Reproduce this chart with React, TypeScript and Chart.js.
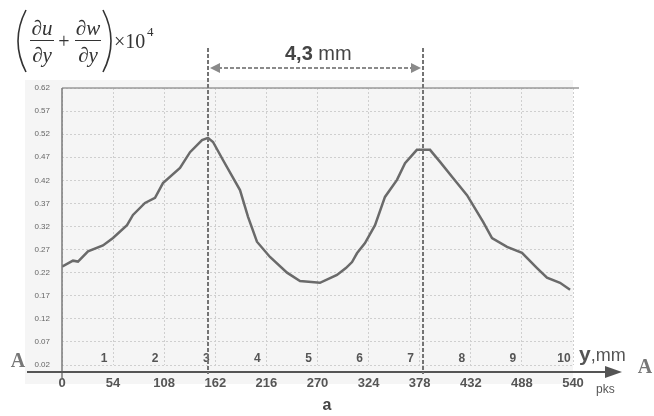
import React, { useEffect, useRef } from "react";
import { Chart, registerables } from "chart.js";

Chart.register(...registerables);

// ---- data ----
const positions = [
  0, 11.6, 16.9, 27.5, 43.3, 53.9, 68.7, 75, 87.7, 98.3, 106.7, 124.7, 135.3,
  148, 154.3, 159.6, 170.1, 188.1, 196.6, 206, 219.8, 237.8, 251.5, 272.6,
  290.6, 300, 306.5, 311.7, 320.2, 330.8, 341.3, 354, 362.5, 375, 388.9, 399.5,
  413.2, 428, 445, 454.4, 470.3, 486.1, 502, 512.5, 526.3, 536.9,
];
const values = [
  0.233, 0.246, 0.244, 0.266, 0.279, 0.295, 0.323, 0.345, 0.371, 0.382,
  0.414, 0.447, 0.481, 0.507, 0.512, 0.503, 0.464, 0.399, 0.341, 0.287, 0.254,
  0.22, 0.202, 0.198, 0.215, 0.23, 0.243, 0.262, 0.284, 0.323, 0.384, 0.421,
  0.457, 0.486, 0.486, 0.46, 0.425, 0.388, 0.33, 0.295, 0.276, 0.263, 0.23,
  0.209, 0.198, 0.183,
];
const xTickLabels = ["0", "54", "108", "162", "216", "270", "324", "378", "432", "488", "540"];
const sectionLabels = ["1", "2", "3", "4", "5", "6", "7", "8", "9", "10"];
const yMin = 0.02;
const yMax = 0.62;
const yStep = 0.05;
const xMin = 0;
const xMax = 540;
const xStep = 54;
const peakPositions = [154.3, 381.5];
const distanceValue = "4,3";
const distanceUnit = " mm";

export default function App() {
  const ref = useRef<HTMLCanvasElement | null>(null);

  useEffect(() => {
    document.body.style.margin = "0";
    const canvas = ref.current;
    if (!canvas) return;

    const decor = {
      id: "decor",
      beforeDraw(chart: any) {
        const ctx = chart.ctx;
        ctx.save();
        ctx.fillStyle = "#ffffff";
        ctx.fillRect(0, 0, chart.width, chart.height);
        ctx.fillStyle = "#f5f5f5";
        ctx.fillRect(25, 80, 548, 304);
        ctx.restore();
      },
      afterDraw(chart: any) {
        const ctx = chart.ctx;
        const xs = chart.scales.x;
        const ys = chart.scales.y;
        const area = chart.chartArea;
        ctx.save();

        // top border & left axis
        ctx.strokeStyle = "#9a9a9a";
        ctx.lineWidth = 1.5;
        ctx.beginPath();
        ctx.moveTo(area.left, ys.getPixelForValue(yMax));
        ctx.lineTo(area.right + 6, ys.getPixelForValue(yMax));
        ctx.stroke();
        ctx.strokeStyle = "#7a7a7a";
        ctx.beginPath();
        ctx.moveTo(area.left, ys.getPixelForValue(yMax));
        ctx.lineTo(area.left, 378);
        ctx.stroke();

        // section numbers
        ctx.fillStyle = "#555";
        ctx.font = "bold 12px Arial, 'Liberation Sans'";
        ctx.textAlign = "center";
        ctx.textBaseline = "middle";
        sectionLabels.forEach((s, i) => {
          const px = xs.getPixelForValue((i + 1) * xStep) - 9;
          ctx.fillText(s, px, 359);
        });

        // bottom axis with arrow
        ctx.strokeStyle = "#555";
        ctx.fillStyle = "#555";
        ctx.lineWidth = 2.2;
        ctx.beginPath();
        ctx.moveTo(27, 372);
        ctx.lineTo(608, 372);
        ctx.stroke();
        ctx.beginPath();
        ctx.moveTo(622, 372);
        ctx.lineTo(605, 366);
        ctx.lineTo(605, 378);
        ctx.closePath();
        ctx.fill();

        // dashed peak lines
        ctx.strokeStyle = "#737373";
        ctx.lineWidth = 2;
        ctx.setLineDash([4, 2]);
        peakPositions.forEach((p) => {
          const px = xs.getPixelForValue(p);
          ctx.beginPath();
          ctx.moveTo(px, 48);
          ctx.lineTo(px, 374);
          ctx.stroke();
        });

        // distance arrow
        const p1 = xs.getPixelForValue(peakPositions[0]);
        const p2 = xs.getPixelForValue(peakPositions[1]);
        ctx.strokeStyle = "#8a8a8a";
        ctx.fillStyle = "#8a8a8a";
        ctx.beginPath();
        ctx.moveTo(p1 + 10, 68);
        ctx.lineTo(p2 - 10, 68);
        ctx.stroke();
        ctx.setLineDash([]);
        ctx.beginPath();
        ctx.moveTo(p1 + 2, 68);
        ctx.lineTo(p1 + 12, 63);
        ctx.lineTo(p1 + 12, 73);
        ctx.closePath();
        ctx.fill();
        ctx.beginPath();
        ctx.moveTo(p2 - 2, 68);
        ctx.lineTo(p2 - 12, 63);
        ctx.lineTo(p2 - 12, 73);
        ctx.closePath();
        ctx.fill();

        // distance text
        ctx.fillStyle = "#444";
        ctx.textAlign = "left";
        ctx.textBaseline = "alphabetic";
        ctx.font = "bold 20px Arial, 'Liberation Sans'";
        ctx.fillText(distanceValue, 285, 60);
        const w1 = ctx.measureText(distanceValue).width;
        ctx.font = "20px Arial, 'Liberation Sans'";
        ctx.fillText(distanceUnit, 285 + w1, 60);

        // A letters
        ctx.fillStyle = "#777";
        ctx.font = "bold 20px 'Liberation Serif', serif";
        ctx.textAlign = "center";
        ctx.textBaseline = "alphabetic";
        ctx.fillText("A", 18, 367);
        ctx.fillText("A", 645, 373);

        // y,mm and pks
        ctx.fillStyle = "#555";
        ctx.textAlign = "left";
        ctx.font = "bold 21px Arial, 'Liberation Sans'";
        ctx.fillText("y", 579, 361);
        const wy = ctx.measureText("y").width;
        ctx.font = "18px Arial, 'Liberation Sans'";
        ctx.fillText(",mm", 579 + wy, 361);
        ctx.font = "12px Arial, 'Liberation Sans'";
        ctx.fillText("pks", 596, 393);

        // caption a
        ctx.font = "bold 16px Arial, 'Liberation Sans'";
        ctx.textAlign = "center";
        ctx.fillStyle = "#444";
        ctx.fillText("a", 327, 410);

        // formula
        ctx.fillStyle = "#333";
        ctx.strokeStyle = "#333";
        ctx.lineWidth = 1.6;
        ctx.beginPath();
        ctx.moveTo(26, 10);
        ctx.quadraticCurveTo(10, 41, 26, 72);
        ctx.stroke();
        ctx.beginPath();
        ctx.moveTo(103, 10);
        ctx.quadraticCurveTo(119, 41, 103, 72);
        ctx.stroke();
        ctx.lineWidth = 1;
        ctx.beginPath();
        ctx.moveTo(30, 40.5);
        ctx.lineTo(54, 40.5);
        ctx.moveTo(75, 40.5);
        ctx.lineTo(101, 40.5);
        ctx.stroke();
        ctx.font = "italic 21px 'Liberation Serif', serif";
        ctx.textAlign = "center";
        ctx.fillText("\u2202u", 42, 35);
        ctx.fillText("\u2202y", 42, 62);
        ctx.fillText("\u2202w", 88, 35);
        ctx.fillText("\u2202y", 88, 62);
        ctx.font = "20px 'Liberation Serif', serif";
        ctx.fillText("+", 64, 48);
        ctx.textAlign = "left";
        ctx.fillText("\u00d710", 114, 48);
        ctx.font = "13px 'Liberation Serif', serif";
        ctx.fillText("4", 147, 36);

        ctx.restore();
      },
    };

    const chart = new Chart(canvas, {
      type: "line",
      data: {
        datasets: [
          {
            data: positions.map((p, i) => ({ x: p, y: values[i] })),
            borderColor: "#6a6a6a",
            borderWidth: 2.5,
            pointRadius: 0,
            tension: 0,
            fill: false,
          },
        ],
      },
      options: {
        responsive: false,
        animation: false,
        events: [],
        layout: { padding: { left: 0, top: 88, right: 81, bottom: 0 } },
        plugins: { legend: { display: false }, tooltip: { enabled: false } },
        scales: {
          x: {
            type: "linear",
            min: xMin,
            max: xMax,
            afterFit: (s: any) => {
              s.height = 51;
            },
            afterBuildTicks: (s: any) => {
              s.ticks = xTickLabels.map((_, i) => ({ value: xMin + i * xStep }));
            },
            ticks: {
              autoSkip: false,
              maxRotation: 0,
              padding: 11,
              color: "#555",
              font: { family: "Arial, 'Liberation Sans'", size: 13, weight: "bold" },
              callback: (_v: any, i: number) => xTickLabels[i],
            },
            grid: { color: "#cfcfcf", lineWidth: 1, drawTicks: false },
            border: { display: false, dash: [2, 2] },
          },
          y: {
            min: yMin,
            max: yMax,
            afterFit: (s: any) => {
              s.width = 62;
            },
            afterBuildTicks: (s: any) => {
              const t = [];
              for (let v = yMin; v <= yMax + 1e-9; v += yStep) t.push({ value: +v.toFixed(2) });
              s.ticks = t;
            },
            ticks: {
              padding: 12,
              color: "#666",
              font: { family: "Arial, 'Liberation Sans'", size: 8 },
              callback: (v: any) => Number(v).toFixed(2),
            },
            grid: { color: "#cfcfcf", lineWidth: 1, drawTicks: false },
            border: { display: false, dash: [2, 2] },
          },
        },
      },
      plugins: [decor],
    } as any);

    return () => chart.destroy();
  }, []);

  return (
    <div style={{ position: "absolute", left: 0, top: 0, width: 654, height: 416 }}>
      <canvas ref={ref} width={654} height={416} style={{ display: "block" }} />
    </div>
  );
}
